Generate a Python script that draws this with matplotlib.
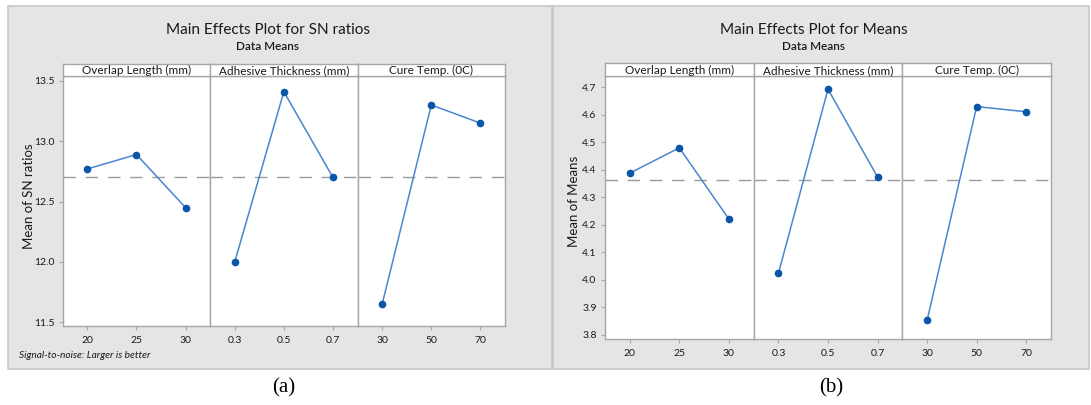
import numpy as np
import matplotlib
matplotlib.use("Agg")
import matplotlib.pyplot as plt
from matplotlib.patches import Rectangle

plt.rcParams['font.family'] = ['Lato', 'DejaVu Sans']

W, H = 1091, 405

# factor names and levels
factors = ['Overlap Length (mm)', 'Adhesive Thickness (mm)', 'Cure Temp. (0C)']
levels = [['20', '25', '30'], ['0.3', '0.5', '0.7'], ['30', '50', '70']]

# mean SN ratios per level
sn_overlap = [12.77, 12.89, 12.45]
sn_thickness = [12.00, 13.41, 12.70]
sn_cure = [11.65, 13.30, 13.15]

# mean response per level
mean_overlap = [4.388, 4.480, 4.221]
mean_thickness = [4.024, 4.693, 4.374]
mean_cure = [3.853, 4.630, 4.611]

LINE = '#4a86cf'
DOT = '#0b56a8'
EDGE = '#a6a6a6'
BG = '#e5e5e5'
TXT = '#1a1a1a'

fig = plt.figure(figsize=(W / 100, H / 100), dpi=100)
fig.patch.set_facecolor('white')


def fx(px):
    return px / W


def fy(py):
    return 1 - py / H


def panel(x0, x1, y0, y1, strip_top, plot_left, plot_right, plot_top, plot_bottom,
          series, ylim, yticks, yfmt, title, ylabel, cx, label_x, label_y):
    fig.patches.append(Rectangle((fx(x0), fy(y1)), fx(x1 - x0), (y1 - y0) / H,
                                 transform=fig.transFigure, facecolor=BG,
                                 edgecolor='#c8c8c8', lw=1.2, zorder=-5))
    fig.text(fx(cx), fy(30), title, ha='center', va='center', fontsize=11, color=TXT)
    fig.text(fx(cx), fy(47), 'Data Means', ha='center', va='center', fontsize=8.5,
             fontweight='semibold', color=TXT)

    grand = np.mean(series[0])
    fw = (plot_right - plot_left) / 3
    axes = []
    for i, vals in enumerate(series):
        left = plot_left + i * fw
        ax = fig.add_axes([fx(left), fy(plot_bottom), fx(fw), (plot_bottom - plot_top) / H])
        x = np.arange(1, 4)
        ax.axhline(grand, color='#9a9a9a', lw=1, dashes=(9, 7), zorder=1)
        ax.plot(x, vals, color=LINE, lw=1.1, zorder=2)
        ax.plot(x, vals, 'o', color=DOT, ms=4.5, zorder=3)
        ax.set_xlim(0.5, 3.5)
        ax.set_ylim(*ylim)
        ax.set_xticks(x)
        ax.set_xticklabels(levels[i], fontsize=7.5, color=TXT)
        ax.tick_params(axis='x', length=3, color=EDGE, pad=4)
        if i == 0:
            ax.set_yticks(yticks)
            ax.set_yticklabels([yfmt.format(t) for t in yticks], fontsize=7.5, color=TXT)
            ax.tick_params(axis='y', length=3, color=EDGE, pad=3)
        else:
            ax.set_yticks([])
        for s in ax.spines.values():
            s.set_color(EDGE)
            s.set_linewidth(1)

        # facet header strip
        sx = fig.add_axes([fx(left), fy(plot_top), fx(fw), (plot_top - strip_top) / H])
        sx.set_xticks([])
        sx.set_yticks([])
        for s in sx.spines.values():
            s.set_color(EDGE)
            s.set_linewidth(1)
        sx.text(0.5, 0.45, factors[i], ha='center', va='center', fontsize=8.5, color=TXT,
                transform=sx.transAxes)
        axes.append(ax)

    fig.text(fx(label_x), fy(label_y), ylabel, rotation=90, ha='center', va='center',
             fontsize=9.5, color=TXT)
    return axes


panel(8, 552, 6, 369, 64, 62.7, 505, 76, 326,
      [sn_overlap, sn_thickness, sn_cure], (11.47, 13.54),
      [11.5, 12.0, 12.5, 13.0, 13.5], '{:.1f}',
      'Main Effects Plot for SN ratios', 'Mean of SN ratios', 268, 29, 196)

panel(553, 1089, 6, 369, 63.3, 605, 1051, 76.3, 339.3,
      [mean_overlap, mean_thickness, mean_cure], (3.784, 4.74),
      [3.8, 3.9, 4.0, 4.1, 4.2, 4.3, 4.4, 4.5, 4.6, 4.7], '{:.1f}',
      'Main Effects Plot for Means', 'Mean of Means', 814, 574, 201)

fig.text(fx(19), fy(356), 'Signal-to-noise: Larger is better', ha='left', va='center',
         fontsize=7.3, style='italic', color=TXT)

fig.text(fx(284), fy(388), '(a)', ha='center', va='center', fontsize=15,
         family='Liberation Serif', color='black')
fig.text(fx(831), fy(388), '(b)', ha='center', va='center', fontsize=15,
         family='Liberation Serif', color='black')

fig.savefig('out.png', dpi=100)
